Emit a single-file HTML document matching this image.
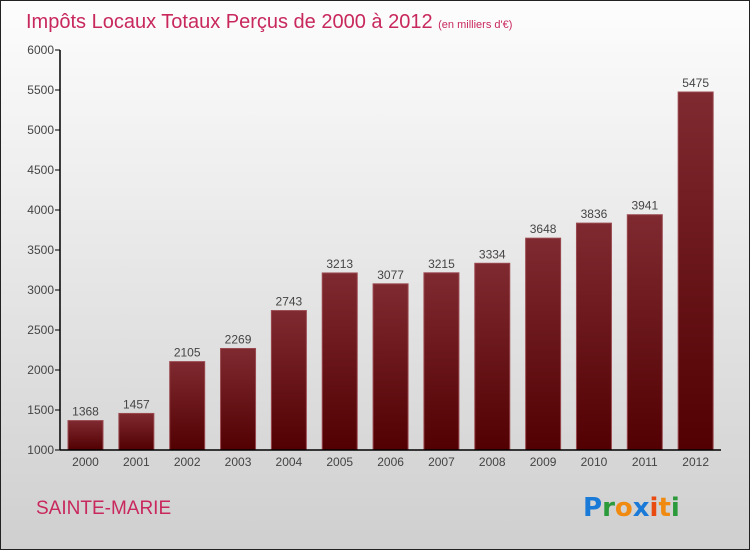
<!DOCTYPE html>
<html><head><meta charset="utf-8"><style>
body{margin:0;}
#c{width:750px;height:550px;position:relative;font-family:"Liberation Sans",sans-serif;}
</style></head><body>
<div id="c">
<svg id="s" width="750" height="550" xmlns="http://www.w3.org/2000/svg">
<defs>
<linearGradient id="bg" x1="0" y1="0" x2="0" y2="1"><stop offset="0" stop-color="#fdfdfd"/><stop offset="1" stop-color="#cfcfcf"/></linearGradient>
<linearGradient id="bar" x1="0" y1="0" x2="0" y2="1"><stop offset="0" stop-color="#7f2a30"/><stop offset="1" stop-color="#520002"/></linearGradient>
</defs>
<rect x="0.5" y="0.5" width="749" height="549" fill="url(#bg)" stroke="#222"/>
<text x="26" y="28" font-size="20" fill="#c8285c">Impôts Locaux Totaux Perçus de 2000 à 2012 <tspan font-size="11">(en milliers d'€)</tspan></text>
<text x="36" y="514" font-size="19" fill="#c8285c">SAINTE-MARIE</text>
<g font-size="26" font-weight="bold" font-family="'DejaVu Sans',sans-serif">
<text x="583" y="516"><tspan fill="#1a7ad8">P</tspan><tspan fill="#2a9a3a">r</tspan><tspan fill="#f08a10">o</tspan><tspan fill="#1a7ad8">x</tspan><tspan fill="#e84a10">i</tspan><tspan fill="#f08a10">t</tspan><tspan fill="#2a9a3a">i</tspan></text>
</g>
<g id="plot"></g>
</svg>
</div>
<script>
const categories=["2000","2001","2002","2003","2004","2005","2006","2007","2008","2009","2010","2011","2012"];
const values=[1368,1457,2105,2269,2743,3213,3077,3215,3334,3648,3836,3941,5475];
const yTicks=[1000,1500,2000,2500,3000,3500,4000,4500,5000,5500,6000];
const NS="http://www.w3.org/2000/svg";
const g=document.getElementById('plot');
const x0=60,x1=721,yTop=50,yBot=450,vMin=1000,vMax=6000;
const band=(x1-x0)/categories.length;
function y(v){return yBot-(v-vMin)/(vMax-vMin)*(yBot-yTop);}
function mk(t,a){const e=document.createElementNS(NS,t);for(const k in a)e.setAttribute(k,a[k]);g.appendChild(e);return e;}
yTicks.forEach(t=>{
 const l=mk('line',{x1:x0-5,x2:x0,y1:y(t),y2:y(t),stroke:'#000'});
 
 
 const tx=mk('text',{x:x0-6,y:y(t)+4,'text-anchor':'end','font-size':12,fill:'#444'});
 tx.textContent=t;
 
 
});
categories.forEach((c,i)=>{
 const bx=x0+i*band+8,w=35,v=values[i];
 const r=mk('rect',{x:bx,y:y(v),width:w,height:yBot-y(v),fill:'url(#bar)',stroke:'#9a4a50','stroke-width':1});
 
 
 const vl=mk('text',{x:bx+w/2,y:y(v)-5,'text-anchor':'middle','font-size':12,fill:'#444'});
 vl.textContent=v;
 
 
 const xl=mk('text',{x:bx+w/2,y:466,'text-anchor':'middle','font-size':12,fill:'#444'});
 xl.textContent=c;
 
 
});
const ya=mk('line',{x1:x0,x2:x0,y1:yTop,y2:yBot,stroke:'#000','stroke-width':1.5});


const xa=mk('line',{x1:x0,x2:x1,y1:yBot,y2:yBot,stroke:'#000','stroke-width':1.5});


</script>
</body></html>
